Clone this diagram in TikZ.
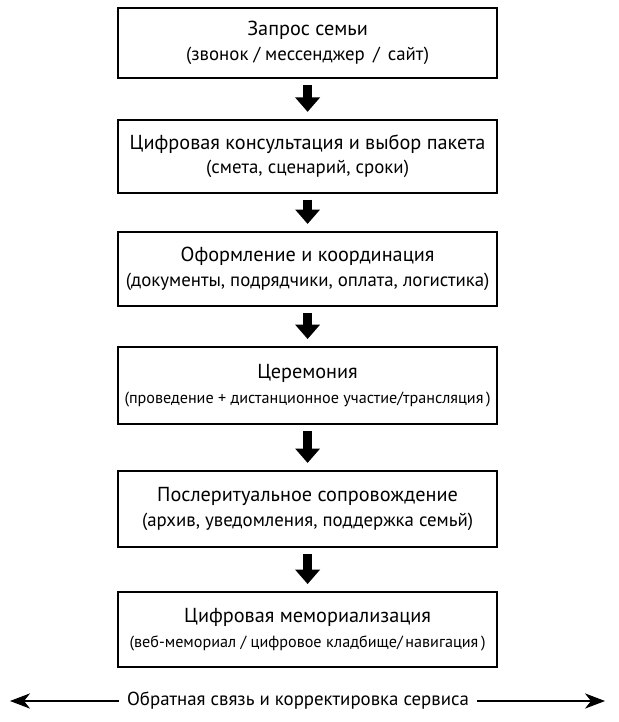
\documentclass[tikz,border=0pt]{standalone}
\usepackage{fontspec}
\setmainfont{PT Sans}
\usetikzlibrary{arrows.meta, positioning}
\newcommand{\headfont}{\fontsize{14.4}{18}\selectfont}
\newcommand{\subfont}{\fontsize{13.4}{16}\selectfont}
\newcommand{\smallsubfont}{\fontsize{11.5}{14}\selectfont}

\begin{document}
\begin{tikzpicture}[
	stage/.style={draw, line width=1.2pt, minimum width=9.475cm, align=center, inner sep=0pt},
	down/.style={-{Triangle[width=0.6cm, length=0.36cm]}, line width=0.22cm, shorten <=0.15cm, shorten >=0.18cm},
	back/.style={-{Stealth[width=0.38cm, length=0.5cm, inset=0.15cm]}, line width=0.8pt}
]
	\useasboundingbox (0, 0) rectangle (15.45, -18.05);

	\node[stage, minimum height=1.75cm]  (request) 	at (7.69, -1.075) 	{\headfont Запрос семьи\\[4pt] \subfont (звонок / мессенджер\, /\, сайт)};
	\node[stage, minimum height=1.825cm] (consult) 	at (7.69, -3.91) 	{\headfont Цифровая консультация и выбор пакета\\[4pt] \subfont (смета, сценарий, сроки)};
	\node[stage, minimum height=1.85cm]  (arrange) 	at (7.69, -6.725) 	{\headfont Оформление и координация\\[4pt] \subfont (документы, подрядчики, оплата, логистика)};
	\node[stage, minimum height=1.925cm] (ceremony) at (7.69, -9.64) 	{\headfont Церемония\\[6pt] \smallsubfont (проведение + дистанционное участие/трансляция\,)};
	\node[stage, minimum height=1.9cm]   (after) 	at (7.69, -12.725) 	{\headfont Послеритуальное сопровождение\\[4pt] \subfont (архив, уведомления, поддержка семьй)};
	\node[stage, minimum height=1.875cm] (memorial) at (7.69, -15.74) 	{\headfont Цифровая мемориализация\\[6pt] \smallsubfont (веб-мемориал / цифровое кладбище/\,навигация\,)};

	\draw[down] (request) to (consult);
	\draw[down] (consult) to (arrange);
	\draw[down] (arrange) to (ceremony);
	\draw[down] (ceremony) to (after);
	\draw[down] (after) to (memorial);

	%feedback line
	\node[inner sep=0pt] (feedback) at (7.45, -17.525) {\subfont Обратная связь и корректировка сервиса};
	\coordinate (leftend) 	at (0.25, -17.525);
	\coordinate (rightend) 	at (15.125, -17.525);
	\draw[back] ([xshift=-0.2cm]feedback.west) to (leftend);
	\draw[back] ([xshift=0.2cm]feedback.east) to (rightend);

\end{tikzpicture}
\end{document}
